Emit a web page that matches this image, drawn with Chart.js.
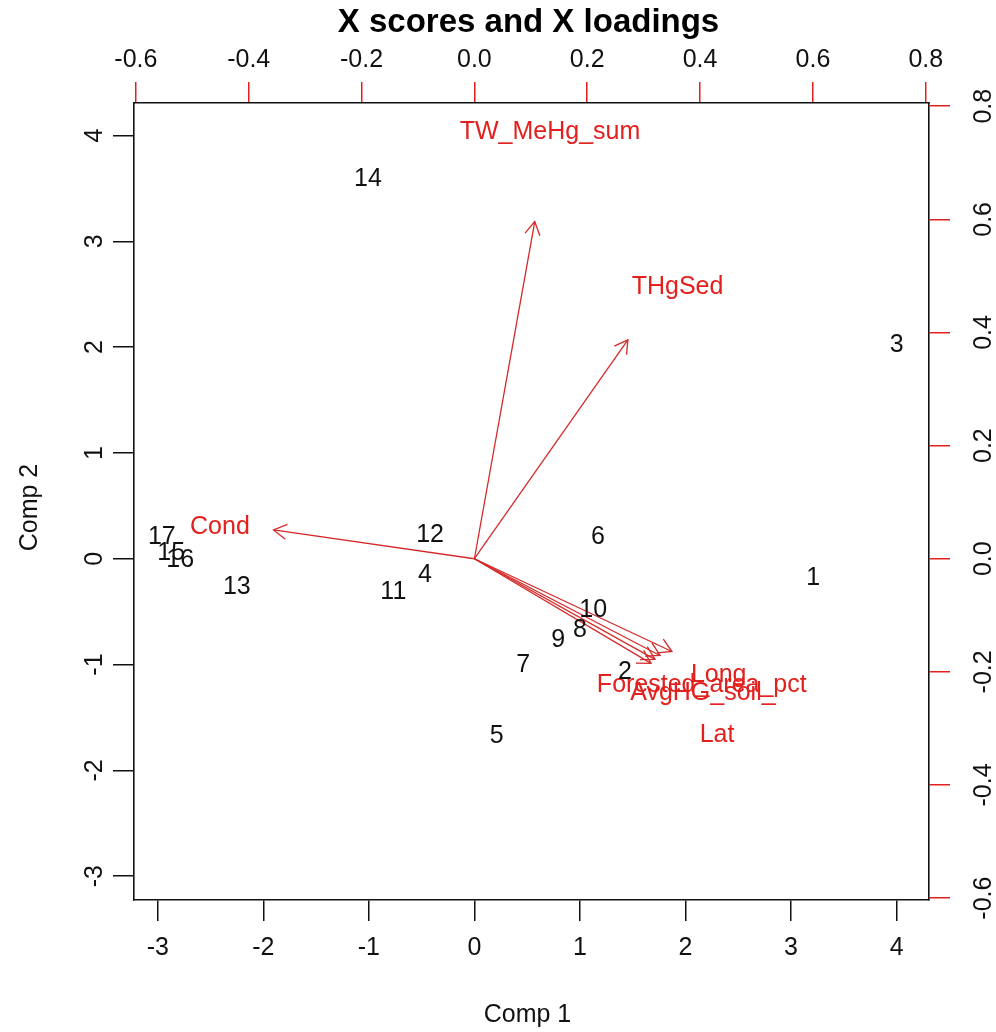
<!DOCTYPE html>
<html><head><meta charset="utf-8">
<script src="https://cdn.jsdelivr.net/npm/chart.js@4.4.1/dist/chart.umd.min.js"></script>
<style>html,body{margin:0;padding:0;background:#fff;}#wrap{width:996px;height:1032px;}</style>
</head><body><div id="wrap"><canvas id="c" width="996" height="1032"></canvas></div>
<script>
// ---- Data ----
const scoreLabels = ['1','2','3','4','5','6','7','8','9','10','11','12','13','14','15','16','17'];
const comp1 = [3.209, 1.426, 4.000, -0.468, 0.211, 1.170, 0.463, 1.000, 0.795, 1.126, -0.768, -0.420, -2.251, -1.008, -2.873, -2.788, -2.961];
const comp2 = [-0.187, -1.071, 2.022, -0.155, -1.677, 0.205, -1.008, -0.676, -0.771, -0.487, -0.315, 0.223, -0.272, 3.585, 0.053, -0.013, 0.207];

const varNames = ['TW_MeHg_sum','THgSed','Cond','Long','Forested_area_pct','AvgHG_soil_','Lat'];
const arrowX = [0.107, 0.272, -0.356, 0.350, 0.329, 0.320, 0.313];
const arrowY = [0.596, 0.387, 0.051, -0.164, -0.171, -0.178, -0.185];
const labelX = [0.134, 0.360, -0.451, 0.433, 0.403, 0.405, 0.430];
const labelY = [0.754, 0.481, 0.056, -0.206, -0.224, -0.238, -0.312];

const scoreTicks = [-3,-2,-1,0,1,2,3,4];
const scoreTickLabels = ['-3','-2','-1','0','1','2','3','4'];
const loadingTicks = [-0.6,-0.4,-0.2,0.0,0.2,0.4,0.6,0.8];
const loadingTickLabels = ['-0.6','-0.4','-0.2','0.0','0.2','0.4','0.6','0.8'];

const scoreRange = [-3.225, 4.307];
const loadingRange = [-0.6033, 0.8057];

const titleText = 'X scores and X loadings';
const xTitle = 'Comp 1';
const yTitle = 'Comp 2';

// ---- Styles ----
const RED = '#e2201e';
const ARROW = '#d42a2a';
const FONT = "'Liberation Sans', Arial, sans-serif";
const FS = 25;

function drawText(ctx, txt, x, y, font, color, rot, align) {
  ctx.save();
  ctx.translate(x, y);
  if (rot) ctx.rotate(rot);
  ctx.font = font;
  ctx.fillStyle = color;
  ctx.textAlign = align || 'center';
  ctx.textBaseline = 'middle';
  ctx.fillText(txt, 0, 0);
  ctx.restore();
}

const textPlugin = {
  id: 'biplotText',
  afterDatasetsDraw(chart) {
    const ctx = chart.ctx;
    // arrow heads
    for (let i = 0; i < varNames.length; i++) {
      const meta = chart.getDatasetMeta(i);
      const p0 = meta.data[0], p1 = meta.data[1];
      const ang = Math.atan2(p1.y - p0.y, p1.x - p0.x);
      const L = 15, a = Math.PI / 6;
      ctx.save();
      ctx.strokeStyle = ARROW;
      ctx.lineWidth = 1.3;
      ctx.beginPath();
      ctx.moveTo(p1.x - L * Math.cos(ang - a), p1.y - L * Math.sin(ang - a));
      ctx.lineTo(p1.x, p1.y);
      ctx.lineTo(p1.x - L * Math.cos(ang + a), p1.y - L * Math.sin(ang + a));
      ctx.stroke();
      ctx.restore();
    }
    // loading labels
    const lm = chart.getDatasetMeta(varNames.length);
    lm.data.forEach((el, i) => drawText(ctx, varNames[i], el.x, el.y, FS + 'px ' + FONT, RED));
    // score labels
    const sm = chart.getDatasetMeta(varNames.length + 1);
    sm.data.forEach((el, i) => drawText(ctx, scoreLabels[i], el.x, el.y, FS + 'px ' + FONT, '#111'));
  },
  afterDraw(chart) {
    const ctx = chart.ctx;
    const s = chart.scales, ca = chart.chartArea;
    const f = FS + 'px ' + FONT;
    scoreTicks.forEach((v, i) => {
      drawText(ctx, scoreTickLabels[i], s.x.getPixelForValue(v), 948, f, '#111');
      drawText(ctx, scoreTickLabels[i], 95, s.y.getPixelForValue(v), f, '#111', -Math.PI / 2);
    });
    loadingTicks.forEach((v, i) => {
      drawText(ctx, loadingTickLabels[i], s.x2.getPixelForValue(v), 60, f, '#111');
      drawText(ctx, loadingTickLabels[i], 984, s.y2.getPixelForValue(v), f, '#111', -Math.PI / 2);
    });
    const cx = (ca.left + ca.right) / 2, cy = (ca.top + ca.bottom) / 2;
    drawText(ctx, titleText, cx - 3, 23, 'bold 33px ' + FONT, '#000');
    drawText(ctx, xTitle, cx - 4, 1015, f, '#111');
    drawText(ctx, yTitle, 30, cy + 6, f, '#111', -Math.PI / 2);
  }
};

function axis(pos, range, ticks, tickColor, size) {
  const horiz = (pos === 'top' || pos === 'bottom');
  return {
    type: 'linear', position: pos, min: range[0], max: range[1],
    afterBuildTicks: (sc) => { sc.ticks = ticks.map(v => ({ value: v })); },
    afterFit: (sc) => { if (horiz) sc.height = size; else sc.width = size; },
    ticks: { display: false, includeBounds: false },
    grid: { drawOnChartArea: false, drawTicks: true, tickLength: 21, color: tickColor, tickColor: tickColor, lineWidth: 1.5 },
    border: { display: true, color: '#111', width: 1.6 },
    title: { display: false }
  };
}

const datasets = [];
varNames.forEach((n, i) => {
  datasets.push({
    type: 'scatter', label: n, xAxisID: 'x2', yAxisID: 'y2',
    data: [{ x: 0, y: 0 }, { x: arrowX[i], y: arrowY[i] }],
    showLine: true, borderColor: ARROW, borderWidth: 1.3, pointRadius: 0, clip: false
  });
});
datasets.push({
  type: 'scatter', label: 'loading labels', xAxisID: 'x2', yAxisID: 'y2',
  data: labelX.map((x, i) => ({ x: x, y: labelY[i] })), pointRadius: 0, clip: false
});
datasets.push({
  type: 'scatter', label: 'scores', xAxisID: 'x', yAxisID: 'y',
  data: comp1.map((x, i) => ({ x: x, y: comp2[i] })), pointRadius: 0, clip: false
});

new Chart(document.getElementById('c'), {
  type: 'scatter',
  data: { datasets },
  options: {
    responsive: false, animation: false, devicePixelRatio: 1,
    layout: { padding: 0 },
    plugins: { legend: { display: false }, tooltip: { enabled: false }, title: { display: false } },
    scales: {
      x: axis('bottom', scoreRange, scoreTicks, '#111', 132),
      y: axis('left', scoreRange, scoreTicks, '#111', 134),
      x2: axis('top', loadingRange, loadingTicks, RED, 103),
      y2: axis('right', loadingRange, loadingTicks, RED, 67)
    }
  },
  plugins: [textPlugin]
});
</script>
</body></html>
